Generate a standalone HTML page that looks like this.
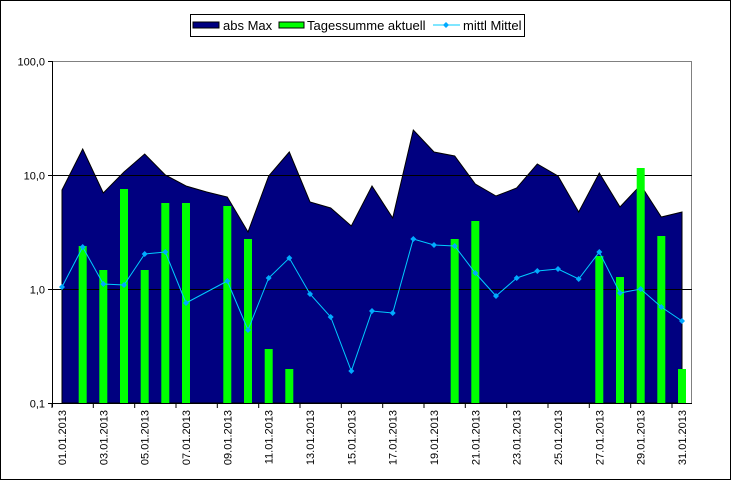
<!DOCTYPE html><html><head><meta charset="utf-8"><style>body{margin:0;background:#fff}svg{display:block;font-family:"Liberation Sans",sans-serif}</style></head><body>
<svg id="s" width="732" height="481" viewBox="0 0 732 481" xmlns="http://www.w3.org/2000/svg">
<rect x="0.5" y="0.5" width="730" height="479" fill="#fff" stroke="#000"/>
<g id="g"></g>
<rect x="190.5" y="14.5" width="334" height="22" fill="#fff" stroke="#000"/>
<rect x="193" y="22" width="26" height="6" fill="#000080" stroke="#000"/>
<text x="223" y="30" font-size="13">abs Max</text>
<rect x="279" y="22" width="25" height="6" fill="#00ff00" stroke="#000"/>
<text x="307" y="30" font-size="13">Tagessumme aktuell</text>
<line x1="433" y1="25" x2="460" y2="25" stroke="#00ccff"/><path d="M446,22 L449,25 L446,28 L443,25Z" fill="#00aaff"/>
<text x="463" y="30" font-size="13">mittl Mittel</text>
</svg>
<script>
const g=document.getElementById('g');let h='';
const X=i=>62+(i-1)*20.667;
const area=[190,149,193,172,154,175,186,192,197,232,176,152,202,208,226,186,218,130,152,156,184,196,188,164,176,212,173,207,185,217,212];
const bars={2:246,3:270,4:189,5:270,6:203,7:203,9:206,10:239,11:349,12:369,20:239,21:221,27:256,28:277,29:168,30:236,31:369};
const line=[287,247,284,285,254,252,303,null,281,330,278,258,294,317,371,311,313,239,245,246,273,296,278,271,269,279,252,293,289,307,321];
h+='<line x1="52" y1="61.5" x2="692" y2="61.5" stroke="#808080"/><line x1="691.5" y1="61" x2="691.5" y2="403" stroke="#808080"/>';
let p='M'+X(1)+',403 ';area.forEach((y,i)=>p+='L'+X(i+1).toFixed(1)+','+y+' ');p+='L'+X(31)+',403Z';
h+='<path d="'+p+'" fill="#000080" stroke="#000" stroke-width="1"/>';
h+='<line x1="52" y1="175.5" x2="692" y2="175.5" stroke="#000"/><line x1="52" y1="289.5" x2="692" y2="289.5" stroke="#000"/>';
for(const k in bars){const x=X(+k);h+='<rect x="'+(x-4).toFixed(1)+'" y="'+bars[k]+'" width="8" height="'+(403-bars[k])+'" fill="#00ff00"/>';}
let pts=[];line.forEach((y,i)=>{if(y!=null)pts.push(X(i+1).toFixed(1)+','+y)});
h+='<polyline points="'+pts.join(' ')+'" fill="none" stroke="#00ccff" stroke-width="1"/>';
line.forEach((y,i)=>{if(y!=null){const x=X(i+1);h+='<path d="M'+x.toFixed(1)+','+(y-3)+' L'+(x+3).toFixed(1)+','+y+' L'+x.toFixed(1)+','+(y+3)+' L'+(x-3).toFixed(1)+','+y+'Z" fill="#00aaff"/>'}});
h+='<line x1="52.5" y1="61" x2="52.5" y2="407" stroke="#000"/><line x1="48" y1="403.5" x2="692" y2="403.5" stroke="#000"/>';
[[61.5,'100,0'],[175.5,'10,0'],[289.5,'1,0'],[403.5,'0,1']].forEach(([y,t])=>{h+='<line x1="48" y1="'+y+'" x2="52" y2="'+y+'" stroke="#000"/><text x="45" y="'+(y+4)+'" font-size="11" text-anchor="end">'+t+'</text>'});
for(let k=0;k<=31;k+=2){const x=52+k*20.667;h+='<line x1="'+x.toFixed(1)+'" y1="403" x2="'+x.toFixed(1)+'" y2="408" stroke="#000"/>';}
for(let d=1;d<=31;d+=2){const x=X(d)+4;const t=(d<10?'0':'')+d+'.01.2013';h+='<text transform="translate('+x.toFixed(1)+',410) rotate(-90)" font-size="11" text-anchor="end">'+t+'</text>';}
g.innerHTML=h;
</script>
</body></html>
